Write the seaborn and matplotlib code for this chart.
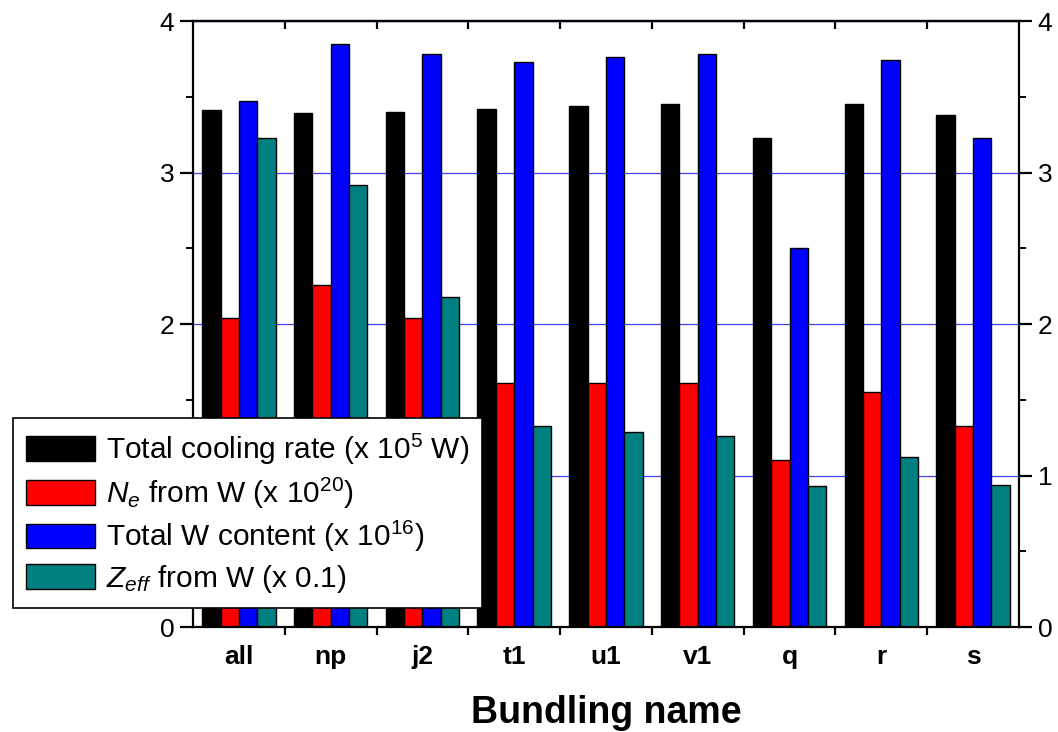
import matplotlib
matplotlib.use("Agg")
import matplotlib.pyplot as plt
import seaborn as sns
import pandas as pd
from matplotlib.ticker import MultipleLocator
from matplotlib.patches import Patch

categories = ["all", "np", "j2", "t1", "u1", "v1", "q", "r", "s"]
cooling_rate = [3.41, 3.39, 3.40, 3.42, 3.44, 3.45, 3.23, 3.45, 3.38]
ne_from_w = [2.04, 2.26, 2.04, 1.61, 1.61, 1.61, 1.10, 1.55, 1.33]
w_content = [3.47, 3.85, 3.78, 3.73, 3.76, 3.78, 2.50, 3.74, 3.23]
zeff_from_w = [3.23, 2.92, 2.18, 1.33, 1.29, 1.26, 0.93, 1.12, 0.94]

series_names = [
    "Total cooling rate (x 10$^{5}$ W)",
    "$N_{e}$ from W (x 10$^{20}$)",
    "Total W content (x 10$^{16}$)",
    "$Z_{eff}$ from W (x 0.1)",
]
colors = ["#000000", "#ff0000", "#0000ff", "#008080"]

sns.set_style("white")
plt.rcParams["font.family"] = ["Liberation Sans", "DejaVu Sans"]
plt.rcParams["mathtext.fontset"] = "custom"
plt.rcParams["mathtext.rm"] = "Liberation Sans"
plt.rcParams["mathtext.it"] = "Liberation Sans:italic"
plt.rcParams["mathtext.bf"] = "Liberation Sans:bold"
plt.rcParams["text.color"] = "black"
plt.rcParams["axes.labelcolor"] = "black"
plt.rcParams["xtick.color"] = "black"
plt.rcParams["ytick.color"] = "black"

rows = []
for name, vals in zip(series_names, [cooling_rate, ne_from_w, w_content, zeff_from_w]):
    for c, v in zip(categories, vals):
        rows.append({"name": c, "value": v, "series": name})
df = pd.DataFrame(rows)

fig = plt.figure(figsize=(10.58, 7.32), dpi=100)
ax = fig.add_axes([0.1824, 0.1434, 0.7807, 0.8279])

sns.barplot(data=df, x="name", y="value", hue="series", order=categories,
            hue_order=series_names, palette=colors, saturation=1, width=0.8,
            edgecolor="black", linewidth=1.0, ax=ax, legend=False, zorder=2)

ax.set_xlim(-0.5, len(categories) - 0.5)
ax.set_ylim(0, 4)
ax.set_axisbelow(True)
ax.yaxis.grid(True, color="#4040ff", linewidth=0.9)
ax.xaxis.grid(False)

for sp in ax.spines.values():
    sp.set_visible(True)
    sp.set_linewidth(1.6)
    sp.set_color("black")

ax.yaxis.set_major_locator(MultipleLocator(1))
ax.yaxis.set_minor_locator(MultipleLocator(0.5))
ax.tick_params(axis="y", which="major", direction="out", length=9.5, width=1.6,
               left=True, right=True, labelleft=True, labelright=True,
               labelsize=19, pad=4)
ax.tick_params(axis="y", which="minor", direction="out", length=5, width=1.4,
               left=True, right=True)

ax.set_xticks(range(len(categories)))
ax.set_xticklabels(categories, fontweight="bold", fontsize=19)
ax.set_xticks([i + 0.5 for i in range(len(categories) - 1)], minor=True)
ax.tick_params(axis="x", which="major", length=0, pad=13)
ax.tick_params(axis="x", which="minor", direction="out", length=5.5, width=1.6,
               bottom=True, top=False)

sec = ax.secondary_xaxis("top")
sec.set_xticks([i + 0.5 for i in range(len(categories) - 1)])
sec.set_xticklabels([])
sec.tick_params(direction="in", length=6, width=1.6)
sec.spines["top"].set_linewidth(1.6)

ax.set_xlabel("Bundling name", fontsize=27, fontweight="bold", labelpad=19)
ax.set_ylabel("")

handles = [Patch(facecolor=c, edgecolor="black", linewidth=1.0) for c in colors]
leg = ax.legend(handles, series_names, loc="lower left",
                bbox_to_anchor=(0.0123, 0.1694), bbox_transform=fig.transFigure,
                fontsize=21.5, frameon=True, fancybox=False, framealpha=1,
                edgecolor="black", handlelength=2.3, handleheight=0.9,
                handletextpad=0.35, labelspacing=0.28, borderpad=0.45,
                borderaxespad=0)
leg.get_frame().set_linewidth(1.2)
leg.set_zorder(10)

fig.savefig("out.png", dpi=100)
